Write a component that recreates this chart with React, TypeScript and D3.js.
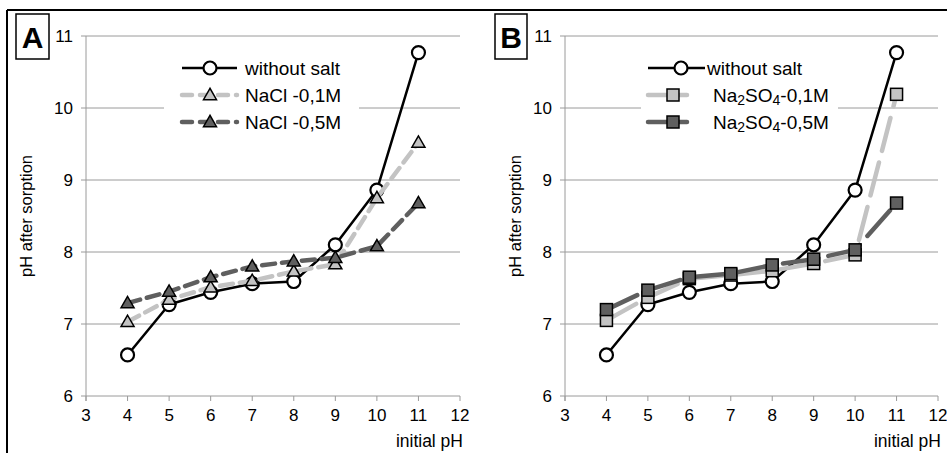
import React from "react";
import * as d3 from "d3";

const xValues = [4, 5, 6, 7, 8, 9, 10, 11];
const withoutSalt = [6.57, 7.27, 7.44, 7.56, 7.59, 8.1, 8.86, 10.77];
const nacl01 = [7.03, 7.34, 7.51, 7.6, 7.73, 7.83, 8.75, 9.52];
const nacl05 = [7.29, 7.45, 7.65, 7.8, 7.87, 7.92, 8.08, 8.68];
const na2so401 = [7.05, 7.37, 7.63, 7.68, 7.74, 7.84, 7.96, 10.19];
const na2so405 = [7.2, 7.47, 7.65, 7.7, 7.82, 7.9, 8.03, 8.68];
const xTicks = [3, 4, 5, 6, 7, 8, 9, 10, 11, 12];
const yTicks = [6, 7, 8, 9, 10, 11];

const FONT = "'Liberation Sans', Arial, sans-serif";
const LIGHT = "#c3c3c3";
const DARK = "#5f5f5f";

type Series = {
  name: string;
  sub?: boolean;
  values: number[];
  color: string;
  width: number;
  dash: string | null;
  marker: "circle" | "triangle" | "square";
  fill: string;
};

const panelA = {
  label: "A",
  left: 86, right: 460, top: 36, bottom: 396,
  box: { x: 16, y: 14, w: 33, h: 45 },
  ylabX: 32,
  legend: { x: 164, y: 54, w: 195, h: 82 },
  rows: [
    { x1: 182, x2: 237, mx: 210, tx: 245 },
    { x1: 182, x2: 237, mx: 210, tx: 245 },
    { x1: 182, x2: 237, mx: 210, tx: 245 },
  ],
  series: [
    { name: "without salt", values: withoutSalt, color: "#000", width: 2.5, dash: null, marker: "circle", fill: "#fff" },
    { name: "NaCl -0,1M", values: nacl01, color: LIGHT, width: 4.5, dash: "13,7", marker: "triangle", fill: LIGHT },
    { name: "NaCl -0,5M", values: nacl05, color: DARK, width: 4.5, dash: "13,7", marker: "triangle", fill: DARK },
  ] as Series[],
};

const panelB = {
  label: "B",
  left: 565, right: 938, top: 36, bottom: 396,
  box: { x: 495, y: 14, w: 32, h: 45 },
  ylabX: 521,
  legend: { x: 641, y: 54, w: 197, h: 82 },
  rows: [
    { x1: 648, x2: 705, mx: 681, tx: 707 },
    { x1: 648, x2: 687, mx: 673, tx: 713 },
    { x1: 648, x2: 687, mx: 673, tx: 713 },
  ],
  series: [
    { name: "without salt", values: withoutSalt, color: "#000", width: 2.5, dash: null, marker: "circle", fill: "#fff" },
    { name: "Na|2|SO|4|-0,1M", sub: true, values: na2so401, color: LIGHT, width: 4.5, dash: "34,12", marker: "square", fill: LIGHT },
    { name: "Na|2|SO|4|-0,5M", sub: true, values: na2so405, color: DARK, width: 4.5, dash: "34,12", marker: "square", fill: DARK },
  ] as Series[],
};

function Marker({ type, x, y, fill }: { type: string; x: number; y: number; fill: string }) {
  if (type === "circle") {
    return <circle cx={x} cy={y} r={6.5} fill={fill} stroke="#000" strokeWidth={2.2} />;
  }
  if (type === "square") {
    return <rect x={x - 6} y={y - 6} width={12} height={12} fill={fill} stroke="#000" strokeWidth={1.5} />;
  }
  const s = 13;
  const h = s * 0.866;
  const pts = `${x},${y - h / 2 - 1} ${x - s / 2},${y + h / 2 - 1} ${x + s / 2},${y + h / 2 - 1}`;
  return <polygon points={pts} fill={fill} stroke="#000" strokeWidth={1.5} strokeLinejoin="miter" />;
}

function LegendText({ s, x, y }: { s: Series; x: number; y: number }) {
  if (!s.sub) {
    return (
      <text x={x} y={y} fontSize={19} fontFamily={FONT} dominantBaseline="central" fill="#000">
        {s.name}
      </text>
    );
  }
  const parts = s.name.split("|");
  return (
    <text x={x} y={y} fontSize={19} fontFamily={FONT} dominantBaseline="central" fill="#000">
      {parts.map((p, i) =>
        i % 2 === 1 ? (
          <tspan key={i} fontSize={14} dy={5}>{p}</tspan>
        ) : (
          <tspan key={i} dy={i === 0 ? 0 : -5}>{p}</tspan>
        )
      )}
    </text>
  );
}

function Panel({ p }: { p: typeof panelA }) {
  const x = d3.scaleLinear().domain([3, 12]).range([p.left, p.right]);
  const y = d3.scaleLinear().domain([6, 11]).range([p.bottom, p.top]);
  const line = d3
    .line<number>()
    .x((_, i) => x(xValues[i]))
    .y((v) => y(v));
  const grid = "#9a9a9a";
  const rowY = [68, 95, 122];
  return (
    <g>
      {yTicks.filter((t) => t > 6).map((t) => (
        <line key={t} x1={p.left} x2={p.right} y1={y(t)} y2={y(t)} stroke={grid} strokeWidth={1} />
      ))}
      <line x1={p.left} x2={p.left} y1={p.top} y2={p.bottom + 5} stroke={grid} strokeWidth={1} />
      <line x1={p.left} x2={p.right} y1={p.bottom} y2={p.bottom} stroke={grid} strokeWidth={1} />
      {yTicks.map((t) => (
        <g key={"yt" + t}>
          <line x1={p.left - 5} x2={p.left} y1={y(t)} y2={y(t)} stroke={grid} strokeWidth={1} />
          <text x={p.left - 13} y={y(t)} textAnchor="end" dominantBaseline="central" fontSize={17} fontFamily={FONT} fill="#000">
            {t}
          </text>
        </g>
      ))}
      {xTicks.map((t) => (
        <g key={"xt" + t}>
          <line x1={x(t)} x2={x(t)} y1={p.bottom} y2={p.bottom + 5} stroke={grid} strokeWidth={1} />
          <text x={x(t)} y={p.bottom + 19} textAnchor="middle" dominantBaseline="central" fontSize={17} fontFamily={FONT} fill="#000">
            {t}
          </text>
        </g>
      ))}
      <text x={p.right + 3} y={447} textAnchor="end" fontSize={17.5} fontFamily={FONT} fill="#000">
        initial pH
      </text>
      <text
        transform={`translate(${p.ylabX},${(p.top + p.bottom) / 2}) rotate(-90)`}
        textAnchor="middle"
        fontSize={16.5}
        fontFamily={FONT}
        fill="#000"
      >
        pH after sorption
      </text>
      <rect x={p.legend.x} y={p.legend.y} width={p.legend.w} height={p.legend.h} fill="#fff" />
      {p.series.map((s, si) => (
        <g key={"s" + si}>
          <path
            d={line(s.values) || ""}
            fill="none"
            stroke={s.color}
            strokeWidth={s.width}
            strokeDasharray={s.dash || undefined}
            strokeLinecap={s.dash ? "round" : "butt"}
            strokeLinejoin="round"
          />
          {s.values.map((v, i) => (
            <Marker key={i} type={s.marker} x={x(xValues[i])} y={y(v)} fill={s.fill} />
          ))}
        </g>
      ))}
      {p.series.map((s, si) => {
        const r = p.rows[si];
        const ly = rowY[si];
        return (
          <g key={"l" + si}>
            <line
              x1={r.x1}
              x2={r.x2}
              y1={ly}
              y2={ly}
              stroke={s.color}
              strokeWidth={s.width}
              strokeDasharray={s.marker === "triangle" ? "10,8" : undefined}
              strokeLinecap={s.dash ? "round" : "butt"}
            />
            <Marker type={s.marker} x={r.mx} y={ly} fill={s.fill} />
            <LegendText s={s} x={r.tx} y={ly} />
          </g>
        );
      })}
      <rect x={p.box.x} y={p.box.y} width={p.box.w} height={p.box.h} fill="#fff" stroke="#000" strokeWidth={1.5} />
      <text
        x={p.box.x + p.box.w / 2}
        y={p.box.y + p.box.h / 2 + 1}
        textAnchor="middle"
        dominantBaseline="central"
        fontSize={30}
        fontWeight="bold"
        fontFamily={FONT}
        fill="#000"
      >
        {p.label}
      </text>
    </g>
  );
}

export default function App() {
  return (
    <svg width={947} height={453} style={{ position: "absolute", left: 0, top: 0, background: "#fff" }}>
      <rect x={0} y={0} width={947} height={453} fill="#fff" />
      <line x1={7} x2={947} y1={10} y2={10} stroke="#000" strokeWidth={2} />
      <line x1={7} x2={7} y1={10} y2={453} stroke="#000" strokeWidth={2} />
      <Panel p={panelA} />
      <Panel p={panelB} />
    </svg>
  );
}
